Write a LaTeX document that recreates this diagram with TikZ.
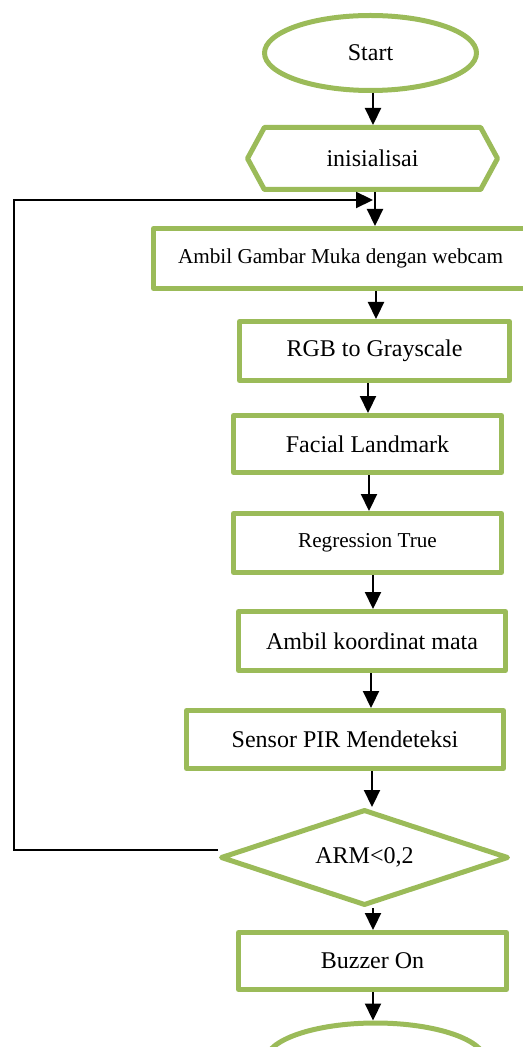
\documentclass[tikz,border=0pt]{standalone}
\usepackage{fontspec}
\setmainfont{Liberation Serif}
\usepackage{xcolor}
\usetikzlibrary{shapes.geometric,shapes.symbols,arrows.meta}
\definecolor{boxgreen}{HTML}{9BBB59}

\begin{document}
\begin{tikzpicture}[x=0.5pt, y=-0.5pt,
        proc/.style={draw=boxgreen, line width=2.5pt, line join=round, fill=white, text=black, font=\fontsize{12}{14}\selectfont},
        term/.style={proc, ellipse},
        small/.style={font=\fontsize{10.6}{12}\selectfont},
        arr/.style={draw=black, line width=1.1pt, -{Triangle[length=8.5pt, width=8pt]}}]
    \useasboundingbox (0,0) rectangle (523,1047);
    % Terminal mulai
    \node[term, minimum width=106pt, minimum height=37.5pt] (start) at (370.5,53) {Start};
    % Inisialisasi (heksagon)
    \node[proc, signal, signal to=east and west, signal pointer angle=123, minimum width=125pt, minimum height=31pt] (init) at (372.5,158.5) {inisialisai};
    % Proses
    \node[proc, small, minimum width=187pt, minimum height=30pt] (grab) at (340.5,258.5) {Ambil Gambar Muka dengan webcam};
    \node[proc, minimum width=135pt, minimum height=29.5pt] (rgb) at (374.5,351) {RGB to Grayscale};
    \node[proc, minimum width=134pt, minimum height=28.5pt] (land) at (367.5,444) {Facial Landmark};
    \node[proc, small, minimum width=134pt, minimum height=29.5pt] (regr) at (367.5,543) {Regression True};
    \node[proc, minimum width=133.5pt, minimum height=29.5pt] (eye) at (372,641) {Ambil koordinat mata};
    \node[proc, minimum width=158.5pt, minimum height=29pt] (pir) at (345,739.5) {Sensor PIR Mendeteksi};
    % Keputusan
    \node[proc, diamond, shape aspect=3, minimum width=144pt, minimum height=48pt] (arm) at (364.5,857.5) {ARM<0,2};
    \node[proc, minimum width=134pt, minimum height=28.5pt] (buzz) at (372.5,961) {Buzzer On};
    % Terminal akhir (terpotong)
    \node[term, minimum width=110pt, minimum height=38pt] (stop) at (375.5,1061) {};
    % Panah alur
    \draw[arr] (start.south -| 373,0) -- (init.north -| 373,0);
    \draw[arr] (init.south -| 375,0) -- (grab.north -| 375,0);
    \draw[arr] (grab.south -| 376,0) -- (rgb.north -| 376,0);
    \draw[arr] (rgb.south -| 368,0) -- (land.north -| 368,0);
    \draw[arr] (land.south -| 369,0) -- (regr.north -| 369,0);
    \draw[arr] (regr.south -| 373,0) -- (eye.north -| 373,0);
    \draw[arr] (eye.south -| 371,0) -- (pir.north -| 371,0);
    \draw[arr] (pir.south -| 372,0) -- (arm.north -| 372,0);
    \draw[arr] (arm.south -| 373,0) -- (buzz.north -| 373,0);
    \draw[arr] (buzz.south -| 373,0) -- (stop.north -| 373,0);
    % Kembali ke awal
    \coordinate (back) at (373,200);
    \draw[arr] ([yshift=3.75pt]arm.west) -- ++(-204,0) |- (back);
\end{tikzpicture}
\end{document}
